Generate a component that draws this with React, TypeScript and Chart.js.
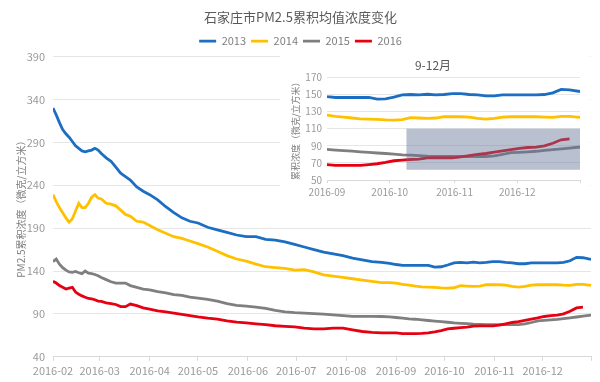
import React, { useEffect, useRef } from 'react';
import { Chart, registerables } from 'chart.js';

Chart.register(...registerables);

// Day offsets from 2016-02-01
const DAYS = [0,2,4,6,8,10,12,14,16,18,20,22,24,26,28,30,33,36,39,42,45,48,52,56,60,65,70,75,80,85,90,96,102,108,114,120,126,132,138,144,150,156,162,168,174,180,186,192,198,204,209,213,217,221,225,229,233,237,241,245,249,253,257,261,265,269,273,277,281,285,289,293,297,301,305,309,313,317,321,325,329,334];

const VALUES_2013 = [330,322,313,305,300,296,291,286,283,280,279,280,281,283,281,277,272,268,261,254,250,246,238,233,229,223,215,208,202,198,196,191,188,185,182,180,180,177,176,174,171,168,165,162,160,158,155,153,151,150,149,147.6,146.5,146.5,146.5,146.5,146.5,144.5,145,147,149.5,150,149.5,150.3,149.5,150,151,151,150,149.5,148.5,148.5,149.5,149.5,149.5,149.5,149.5,150,152,156,155.5,153.5];

const VALUES_2014 = [229,221,214,208,202,197,201,210,219,214,214,219,226,229,225,224,219,218,216,211,206,204,198,197,193,188,184,180,178,175,172,168,163,158,154,151.5,148,145,144,143,141,141.5,139,135.5,134,132.5,131,129.5,128,126.5,126.5,126,124.5,123.5,122.5,121.5,121.2,121,120.3,120,120.5,123,122.5,122,122.5,124,124,124,123.5,122,121.2,122,123.5,124,124,124,124,123.5,123.2,124.5,124.5,123.2];

const VALUES_2015 = [151,154,148,144,141,139,138.5,139.5,138,137,140,137.5,137,136,134.5,132.5,130,127.5,126,126,126,123,121,119,118,116,114.5,112.5,111.5,109.5,108.5,107,105,102,100,99,98,96.5,94,92.5,91.5,91,90.3,89.8,89,88,87.2,87.2,87.2,87,86.5,85.8,85,84.3,83.8,83,82.3,81.6,81,80.3,79.5,79,78.6,78,77.7,77.5,77.5,77.5,77.5,77.5,77.5,78.3,80,81.9,82.4,83,83.6,84.6,85.5,86.4,87.4,88.6];

const VALUES_2016 = [128,126,123,121,119,120,121,115.5,113,111,109.5,108,107.5,106.5,105,104.5,103,102,101,98.5,98.5,101.5,99.6,97,95.5,93.5,92.5,91,89.5,88,86.5,85,84,82,80.5,79.5,78.5,77.5,76.2,75.5,75,73.5,72.6,72.6,73.5,73.5,71.5,69.5,68.5,68,68,68,67,67,67,67.2,68,69,70.5,72.5,73.3,74,74.5,75.8,76,76,76,77,78.5,80,81,82.5,84,85.4,87,88,88.5,90,93,97,98,null];

const SERIES_LABELS = ['2013', '2014', '2015', '2016'];
const SERIES_VALUES = [VALUES_2013, VALUES_2014, VALUES_2015, VALUES_2016];
const SERIES_COLORS = ['#1b6ec2', '#ffc000', '#7f7f7f', '#e60012'];

const MONTH_TICKS = [0, 29, 60, 90, 121, 151, 182, 213, 243, 274, 304, 334];
const MONTH_LABELS = ['2016-02','2016-03','2016-04','2016-05','2016-06','2016-07','2016-08','2016-09','2016-10','2016-11','2016-12',''];

const INSET_TICKS = [213, 243, 274, 304, 334];
const INSET_LABELS = ['2016-09','2016-10','2016-11','2016-12',''];

const HIGHLIGHT_DAYS = [251, 334];
const HIGHLIGHT_VALUES = [62, 110];

const TITLE = '石家庄市PM2.5累积均值浓度变化';
const Y_TITLE = 'PM2.5累积浓度（微克/立方米）';
const INSET_TITLE = '9-12月';
const INSET_Y_TITLE = '累积浓度（微克/立方米）';

const FONT = '"Noto Sans CJK SC", "Noto Sans", sans-serif';
Chart.defaults.font.family = FONT;

function makeDatasets() {
  return SERIES_LABELS.map((label, si) => ({
    label,
    data: DAYS.map((d, i) => ({ x: d, y: SERIES_VALUES[si][i] })),
    borderColor: SERIES_COLORS[si],
    backgroundColor: SERIES_COLORS[si],
    borderWidth: 2.8,
    pointRadius: 0,
    pointHoverRadius: 0,
    tension: 0,
    order: 4 - si,
  }));
}

const highlightPlugin = {
  id: 'highlight',
  afterDatasetsDraw(chart: any) {
    const { ctx, scales } = chart;
    const x = scales.x, y = scales.y;
    const l = x.getPixelForValue(HIGHLIGHT_DAYS[0]);
    const r = x.getPixelForValue(HIGHLIGHT_DAYS[1]);
    const t = y.getPixelForValue(HIGHLIGHT_VALUES[1]);
    const b = y.getPixelForValue(HIGHLIGHT_VALUES[0]);
    ctx.save();
    ctx.fillStyle = 'rgba(100,118,150,0.45)';
    ctx.fillRect(l, t, r - l, b - t);
    ctx.restore();
  },
};

export default function App() {
  const mainRef = useRef<HTMLCanvasElement>(null);
  const insetRef = useRef<HTMLCanvasElement>(null);

  useEffect(() => {
    const main = new Chart(mainRef.current as HTMLCanvasElement, {
      type: 'line',
      data: { datasets: makeDatasets() as any },
      options: {
        responsive: false,
        animation: false,
        events: [],
        layout: { padding: { left: 10, right: 9, top: 0, bottom: 2 } },
        plugins: {
          title: {
            display: true,
            text: TITLE,
            color: '#595959',
            font: { size: 13, weight: 'normal' as any },
            padding: { top: 9, bottom: 6 },
          },
          legend: {
            display: true,
            position: 'top',
            labels: {
              usePointStyle: true,
              pointStyle: 'line',
              pointStyleWidth: 17,
              color: '#7f7f7f',
              font: { size: 11 },
              padding: 5,
              sort: (a: any, b: any) => a.datasetIndex - b.datasetIndex,
            },
          },
          tooltip: { enabled: false },
        },
        scales: {
          x: {
            type: 'linear',
            min: MONTH_TICKS[0],
            max: MONTH_TICKS[MONTH_TICKS.length - 1],
            afterBuildTicks: (axis: any) => {
              axis.ticks = MONTH_TICKS.map((v) => ({ value: v }));
            },
            ticks: {
              autoSkip: false,
              maxRotation: 0,
              color: '#9a9a9a',
              font: { size: 11 },
              padding: 3,
              callback: (v: any) => {
                const i = MONTH_TICKS.indexOf(Number(v));
                return i >= 0 ? MONTH_LABELS[i] : '';
              },
            },
            grid: { drawOnChartArea: false, drawTicks: true, tickLength: 4, color: '#d9d9d9' },
            border: { color: '#d9d9d9' },
          },
          y: {
            min: 40,
            max: 390,
            ticks: { stepSize: 50, color: '#9a9a9a', font: { size: 11 }, padding: 8 },
            grid: { color: '#e6e6e6', drawTicks: false },
            border: { display: false },
            title: {
              display: true,
              text: Y_TITLE,
              color: '#7f7f7f',
              font: { size: 10 },
              padding: { top: 5, bottom: 0 },
            },
            afterFit: (s: any) => { s.width = 43; },
          },
        },
      } as any,
    });

    const inset = new Chart(insetRef.current as HTMLCanvasElement, {
      type: 'line',
      data: { datasets: makeDatasets() as any },
      plugins: [highlightPlugin],
      options: {
        responsive: false,
        animation: false,
        events: [],
        layout: { padding: { left: 6, right: 10, top: 0, bottom: 9 } },
        plugins: {
          title: {
            display: true,
            text: INSET_TITLE,
            color: '#595959',
            font: { size: 12, weight: 'normal' as any },
            padding: { top: 10, bottom: 5 },
          },
          legend: { display: false },
          tooltip: { enabled: false },
        },
        scales: {
          x: {
            type: 'linear',
            min: INSET_TICKS[0],
            max: INSET_TICKS[INSET_TICKS.length - 1],
            afterBuildTicks: (axis: any) => {
              axis.ticks = INSET_TICKS.map((v) => ({ value: v }));
            },
            ticks: {
              autoSkip: false,
              maxRotation: 0,
              color: '#9a9a9a',
              font: { size: 10 },
              padding: 3,
              callback: (v: any) => {
                const i = INSET_TICKS.indexOf(Number(v));
                return i >= 0 ? INSET_LABELS[i] : '';
              },
            },
            grid: { drawOnChartArea: false, drawTicks: true, tickLength: 3, color: '#d9d9d9' },
            border: { color: '#d9d9d9' },
          },
          y: {
            min: 50,
            max: 170,
            ticks: { stepSize: 20, color: '#9a9a9a', font: { size: 10 }, padding: 5 },
            grid: { color: '#e6e6e6', drawTicks: false },
            border: { display: false },
            title: {
              display: true,
              text: INSET_Y_TITLE,
              color: '#7f7f7f',
              font: { size: 9 },
              padding: { top: 4, bottom: 0 },
            },
            afterFit: (s: any) => { s.width = 41; },
          },
        },
      } as any,
    });

    return () => {
      main.destroy();
      inset.destroy();
    };
  }, []);

  return (
    <div style={{ position: 'fixed', left: 0, top: 0, width: 600, height: 382, background: '#ffffff' }}>
      <canvas ref={mainRef} width={600} height={382} style={{ position: 'absolute', left: 0, top: 0, display: 'block' }} />
      <div style={{ position: 'absolute', left: 280, top: 48, width: 310, height: 162, background: '#ffffff' }}>
        <canvas ref={insetRef} width={310} height={162} style={{ display: 'block' }} />
      </div>
    </div>
  );
}
